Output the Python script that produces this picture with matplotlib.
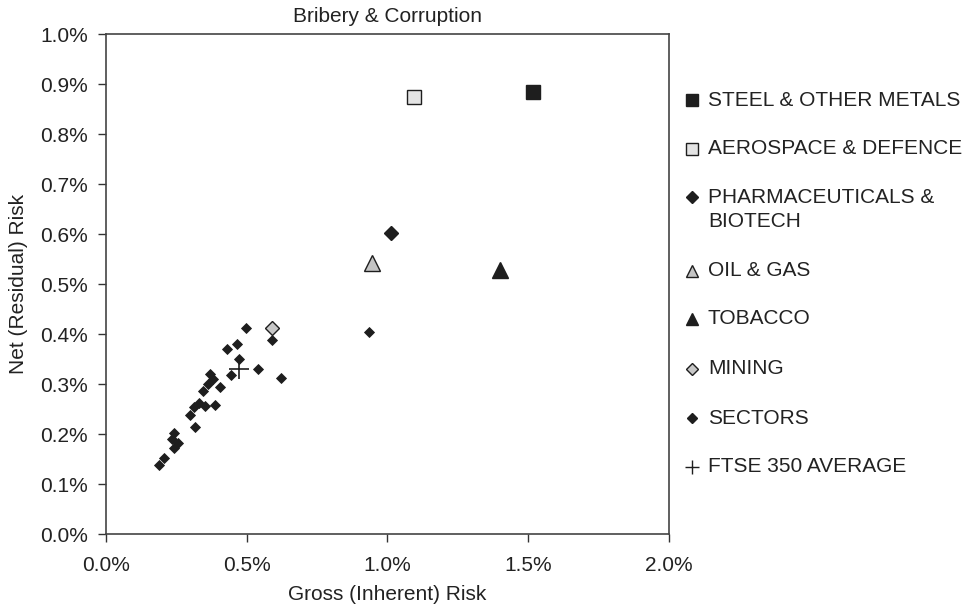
import matplotlib
matplotlib.use("Agg")
import matplotlib.pyplot as plt
from matplotlib.lines import Line2D
from matplotlib.ticker import FuncFormatter

plt.rcParams['font.family'] = ['Liberation Sans', 'DejaVu Sans']

# ---- data (values in %) ----
title = "Bribery & Corruption"
x_label = "Gross (Inherent) Risk"
y_label = "Net (Residual) Risk"

x_ticks = [0.0, 0.5, 1.0, 1.5, 2.0]
y_ticks = [0.0, 0.1, 0.2, 0.3, 0.4, 0.5, 0.6, 0.7, 0.8, 0.9, 1.0]

sector_x = [0.188, 0.206, 0.243, 0.257, 0.233, 0.243, 0.316, 0.298, 0.314, 0.330,
            0.353, 0.387, 0.346, 0.363, 0.405, 0.379, 0.370, 0.444, 0.540, 0.621,
            0.471, 0.430, 0.464, 0.497, 0.588, 0.936]
sector_y = [0.139, 0.153, 0.172, 0.182, 0.190, 0.203, 0.214, 0.238, 0.255, 0.262,
            0.256, 0.258, 0.286, 0.300, 0.295, 0.310, 0.320, 0.318, 0.330, 0.312,
            0.350, 0.370, 0.380, 0.413, 0.388, 0.405]

highlight_names = ["STEEL & OTHER METALS", "AEROSPACE & DEFENCE",
                   "PHARMACEUTICALS &\nBIOTECH", "OIL & GAS", "TOBACCO", "MINING"]
highlight_x = [1.516, 1.094, 1.014, 0.946, 1.400, 0.588]
highlight_y = [0.885, 0.875, 0.602, 0.543, 0.528, 0.413]

ftse_name = "FTSE 350 AVERAGE"
ftse_x = [0.473]
ftse_y = [0.330]

sector_name = "SECTORS"

# ---- styles ----
ink = "#1e1e1e"
txt = "#222222"
fs = 15
hl_markers = ['s', 's', 'D', '^', '^', 'D']
hl_faces = [ink, '#e4e4e4', ink, '#c4c4c4', ink, '#c8c8c8']
hl_sizes = [10.5, 10.3, 7.6, 11.0, 11.0, 7.6]

W, H = 978, 604
fig = plt.figure(figsize=(W / 100, H / 100), dpi=100)
ax = fig.add_axes([106 / W, 1 - 534 / H, (669 - 106) / W, 500 / H])

ax.plot(sector_x, sector_y, linestyle='none', marker='D', markersize=4.8,
        markerfacecolor=ink, markeredgecolor=ink, markeredgewidth=0.6, zorder=3)
for i in range(len(highlight_names)):
    ax.plot([highlight_x[i]], [highlight_y[i]], linestyle='none', marker=hl_markers[i],
            markersize=hl_sizes[i], markerfacecolor=hl_faces[i], markeredgecolor=ink,
            markeredgewidth=1.0, zorder=4)
ax.plot(ftse_x, ftse_y, linestyle='none', marker='+', markersize=15,
        markeredgecolor=ink, markeredgewidth=1.2, zorder=5)

ax.set_xlim(0, 2.0)
ax.set_ylim(0, 1.0)
ax.set_xticks(x_ticks)
ax.set_yticks(y_ticks)
fmt = FuncFormatter(lambda v, p: f"{v:.1f}%")
ax.xaxis.set_major_formatter(fmt)
ax.yaxis.set_major_formatter(fmt)
ax.tick_params(axis='both', direction='out', length=6, width=1.0, color='#333333',
               labelsize=fs, labelcolor=txt)
ax.tick_params(axis='y', pad=7)
ax.tick_params(axis='x', pad=10)
for s in ax.spines.values():
    s.set_color('#444444')
    s.set_linewidth(1.2)

ax.set_title(title, fontsize=fs, color=txt, pad=9)
ax.set_xlabel(x_label, fontsize=fs, color=txt, labelpad=7)
ax.set_ylabel(y_label, fontsize=fs, color=txt, labelpad=9)

# ---- legend (outside, right) ----
leg_labels = highlight_names + [sector_name, ftse_name]
leg_markers = hl_markers + ['D', '+']
leg_faces = hl_faces + [ink, 'none']
leg_sizes = [8.5, 8.5, 6.5, 9.0, 9.0, 6.5, 5.5, 9.5]
leg_rows = [100, 149, 197, 271, 319, 369, 418, 467]
for lab, mk, fc, ms, row in zip(leg_labels, leg_markers, leg_faces, leg_sizes, leg_rows):
    yf = 1 - row / H
    fig.add_artist(Line2D([692 / W], [yf], transform=fig.transFigure, linestyle='none',
                          marker=mk, markersize=ms, markerfacecolor=fc,
                          markeredgecolor=ink, markeredgewidth=1.0))
    if '\n' in lab:
        fig.text(708 / W, 1 - (row - 9) / H, lab, fontsize=fs, color=txt,
                 ha='left', va='top', linespacing=1.35, transform=fig.transFigure)
    else:
        fig.text(708 / W, yf, lab, fontsize=fs, color=txt,
                 ha='left', va='center', transform=fig.transFigure)

fig.savefig("out.png", dpi=100)
